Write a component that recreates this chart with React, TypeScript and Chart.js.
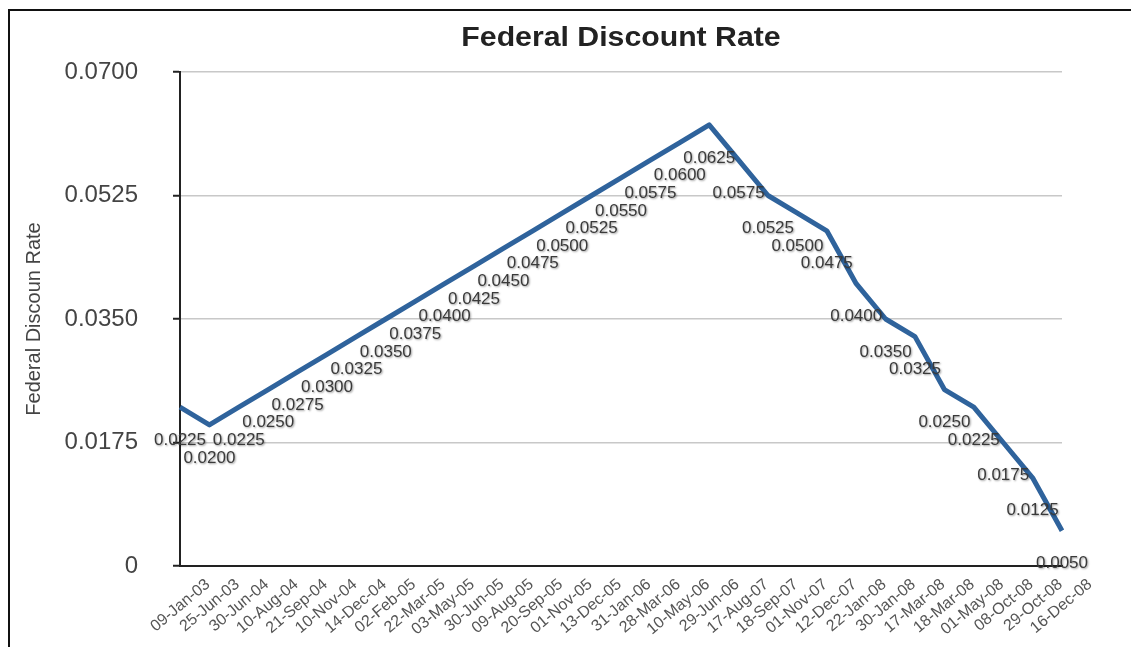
import React, { useEffect, useRef } from "react";
import { Chart, registerables } from "chart.js";

Chart.register(...registerables);

const dates = [
  "09-Jan-03", "25-Jun-03", "30-Jun-04", "10-Aug-04", "21-Sep-04", "10-Nov-04",
  "14-Dec-04", "02-Feb-05", "22-Mar-05", "03-May-05", "30-Jun-05", "09-Aug-05",
  "20-Sep-05", "01-Nov-05", "13-Dec-05", "31-Jan-06", "28-Mar-06", "10-May-06",
  "29-Jun-06", "17-Aug-07", "18-Sep-07", "01-Nov-07", "12-Dec-07", "22-Jan-08",
  "30-Jan-08", "17-Mar-08", "18-Mar-08", "01-May-08", "08-Oct-08", "29-Oct-08",
  "16-Dec-08",
];

const rates = [
  0.0225, 0.02, 0.0225, 0.025, 0.0275, 0.03, 0.0325, 0.035, 0.0375, 0.04, 0.0425,
  0.045, 0.0475, 0.05, 0.0525, 0.055, 0.0575, 0.06, 0.0625, 0.0575, 0.0525, 0.05,
  0.0475, 0.04, 0.035, 0.0325, 0.025, 0.0225, 0.0175, 0.0125, 0.005,
];

const yMin = 0;
const yMax = 0.07;
const yStep = 0.0175;

const chartTitle = "Federal Discount Rate";
const yAxisTitle = "Federal Discoun Rate";

const FONT = '"Liberation Sans", Arial, Helvetica, sans-serif';

const framePlugin = {
  id: "frame",
  beforeDraw(chart: any) {
    const ctx = chart.ctx;
    ctx.save();
    ctx.strokeStyle = "#111";
    ctx.lineWidth = 2;
    ctx.beginPath();
    ctx.moveTo(9, chart.height);
    ctx.lineTo(9, 10);
    ctx.lineTo(chart.width, 10);
    ctx.stroke();
    ctx.restore();
  },
};

const titlePlugin = {
  id: "centeredTitle",
  afterDraw(chart: any) {
    const ctx = chart.ctx;
    const area = chart.chartArea;
    ctx.save();
    ctx.font = `bold 28px ${FONT}`;
    ctx.fillStyle = "#222";
    ctx.textAlign = "center";
    ctx.textBaseline = "middle";
    ctx.translate((area.left + area.right) / 2, 38);
    ctx.scale(1.08, 1);
    ctx.fillText(chartTitle, 0, 0);
    ctx.restore();
  },
};

const valueLabelPlugin = {
  id: "valueLabels",
  afterDatasetsDraw(chart: any) {
    const ctx = chart.ctx;
    const meta = chart.getDatasetMeta(0);
    const data = chart.data.datasets[0].data as number[];
    ctx.save();
    ctx.font = `17px ${FONT}`;
    ctx.fillStyle = "#3a3a3a";
    ctx.textAlign = "center";
    ctx.textBaseline = "middle";
    ctx.shadowColor = "rgba(0,0,0,0.4)";
    ctx.shadowBlur = 2;
    ctx.shadowOffsetX = 1;
    ctx.shadowOffsetY = 1;
    meta.data.forEach((pt: any, i: number) => {
      ctx.fillText(data[i].toFixed(4), pt.x, pt.y + 33);
    });
    ctx.restore();
  },
};

export default function App() {
  const ref = useRef<HTMLCanvasElement | null>(null);

  useEffect(() => {
    if (!ref.current) return;
    const chart = new Chart(ref.current, {
      type: "line",
      data: {
        labels: dates,
        datasets: [
          {
            label: chartTitle,
            data: rates,
            borderColor: "#2f639c",
            borderWidth: 5,
            pointRadius: 0,
            tension: 0,
            borderJoinStyle: "round",
            fill: false,
          },
        ],
      },
      options: {
        animation: false,
        responsive: true,
        maintainAspectRatio: false,
        layout: { padding: { left: 0, right: 69, top: 72, bottom: 0 } },
        plugins: {
          legend: { display: false },
          tooltip: { enabled: false },
          title: { display: false },
        },
        scales: {
          x: {
            offset: false,
            grid: { display: false, drawTicks: false },
            border: { display: true, color: "#222", width: 2 },
            ticks: {
              autoSkip: false,
              maxRotation: 40,
              minRotation: 40,
              labelOffset: 28,
              padding: 9,
              color: "#555",
              font: { family: FONT, size: 16 },
            },
            afterFit: (s: any) => {
              s.height = 81;
            },
          },
          y: {
            min: yMin,
            max: yMax,
            grid: {
              color: "#c8c8c8",
              lineWidth: 1.5,
              tickLength: 7,
              tickColor: "#222",
              tickWidth: 2,
            },
            border: { display: true, color: "#222", width: 2 },
            ticks: {
              stepSize: yStep,
              padding: 35,
              color: "#444",
              font: { family: FONT, size: 24 },
              callback: (v: any) => (Number(v) === 0 ? "0" : Number(v).toFixed(4)),
            },
            title: {
              display: true,
              text: yAxisTitle,
              color: "#444",
              font: { family: FONT, size: 20 },
              padding: { top: 22, bottom: 0 },
            },
            afterFit: (s: any) => {
              s.width = 180;
            },
          },
        },
      },
      plugins: [framePlugin, valueLabelPlugin, titlePlugin],
    });
    return () => chart.destroy();
  }, []);

  return (
    <div style={{ position: "fixed", left: 0, top: 0, width: 1131, height: 647, background: "#fff" }}>
      <canvas ref={ref} />
    </div>
  );
}
